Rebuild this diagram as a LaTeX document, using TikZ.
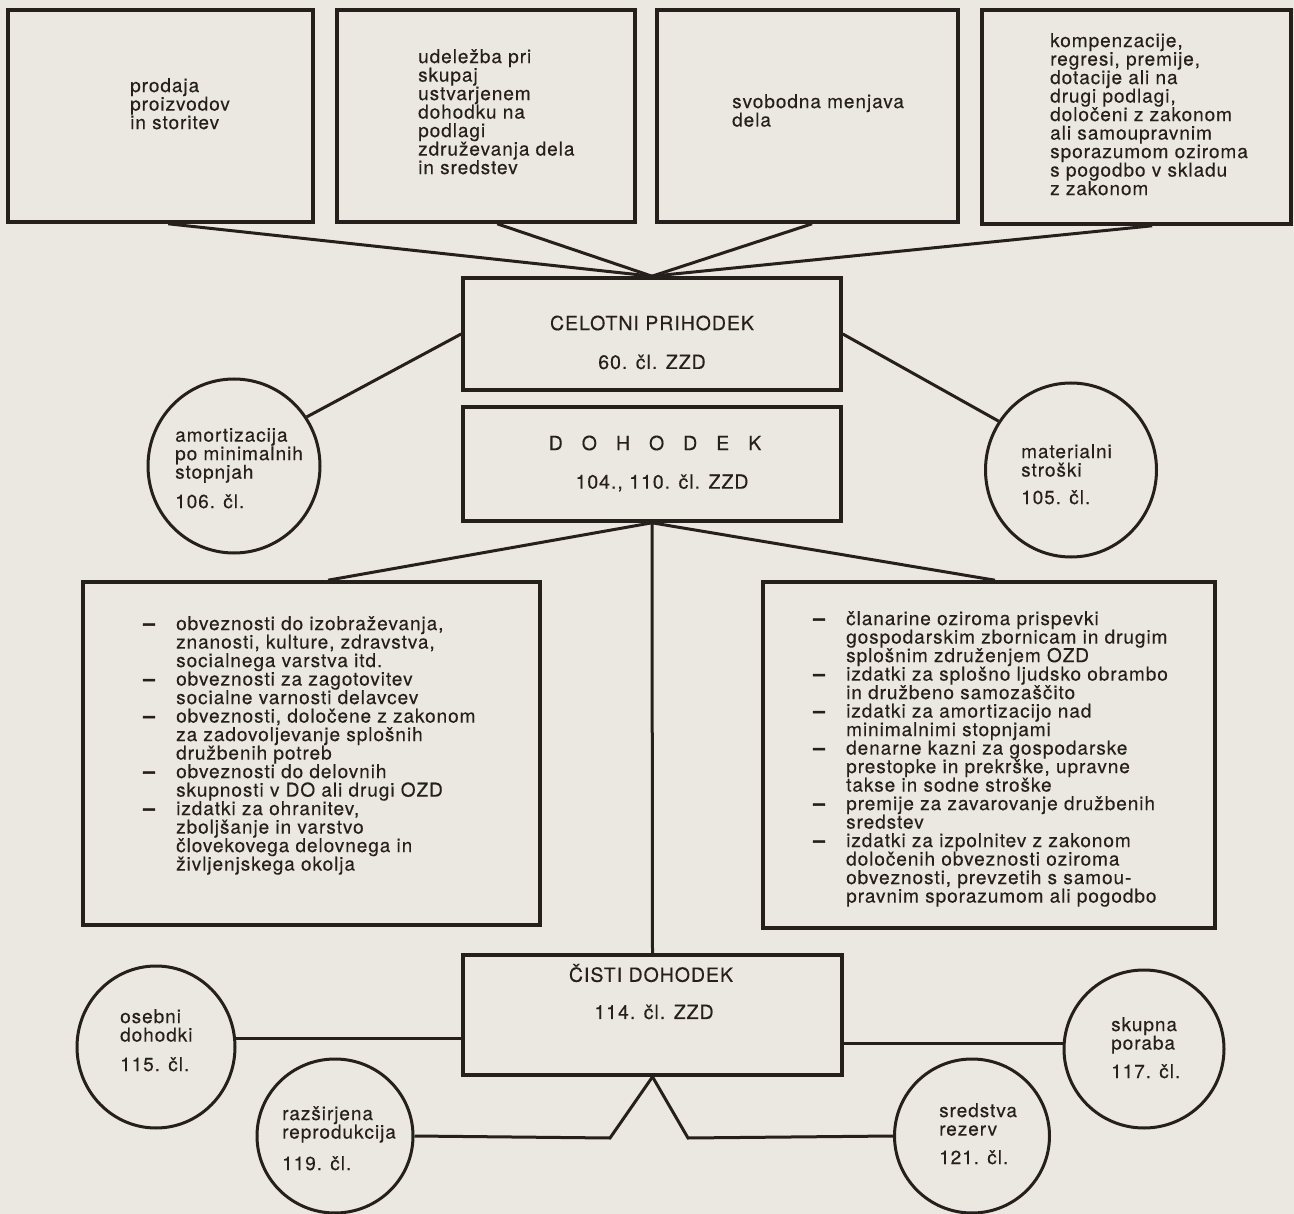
\documentclass[tikz,border=0pt]{standalone}
\usepackage{fontspec}
\setmainfont{TeX Gyre Heros}[LetterSpace=5,FakeBold=0.3]
\usetikzlibrary{shapes.geometric,calc}
\definecolor{paper}{RGB}{234,232,224}
\definecolor{ink}{RGB}{38,32,28}
\newcommand{\dgfont}{\fontsize{19}{18.5}\selectfont}
\newcommand{\hdfont}{\fontsize{19.5}{20}\selectfont}
\newcommand{\itm}{\makebox[33pt][l]{\fontsize{21}{18.5}\selectfont\addfontfeature{FakeBold=2.5}\textbf{–}}}
\newcommand{\cnt}{\makebox[33pt]{}}
\newcommand{\gp}{\hspace{19pt}}
\begin{document}
\begin{tikzpicture}[x=1pt,y=-1pt,
  box/.style={draw=ink, line width=3.6pt, rectangle, inner sep=0pt},
  circ/.style={draw=ink, line width=3pt, ellipse, inner sep=0pt},
  conn/.style={draw=ink, line width=3pt, line join=miter},
  txt/.style={inner sep=0pt, anchor=north west, align=left, font=\dgfont, text=ink},
  hd/.style={inner sep=0pt, anchor=center, font=\hdfont, text=ink}]
\fill[paper] (0,0) rectangle (1294,1214);
\useasboundingbox (0,0) rectangle (1294,1214);

% top source boxes
\node[box, minimum width=305pt, minimum height=212pt] (b1) at (160.5,116) {};
\node[box, minimum width=298pt, minimum height=212pt] (b2) at (486,116) {};
\node[box, minimum width=301pt, minimum height=212pt] (b3) at (807.5,116) {};
\node[box, minimum width=309pt, minimum height=214pt] (b4) at (1136.5,117) {};
\node[txt] (t1) at (130,78) {prodaja\\proizvodov\\in storitev};
\node[txt] (t2) at (418,49) {udeležba pri\\skupaj\\ustvarjenem\\dohodku na\\podlagi\\združevanja dela\\in sredstev};
\node[txt] (t3) at (732,94) {svobodna menjava\\dela};
\node[txt] (t4) at (1050,33) {kompenzacije,\\regresi, premije,\\dotacije ali na\\drugi podlagi,\\določeni z zakonom\\ali samoupravnim\\sporazumom oziroma\\s pogodbo v skladu\\z zakonom};

% central boxes
\node[box, minimum width=378pt, minimum height=112pt] (celotni) at (652,334) {};
\node[hd] (celt1) at (652,323) {CELOTNI PRIHODEK};
\node[hd] (celt2) at (652,362) {60. čl. ZZD};
\node[box, minimum width=378pt, minimum height=114pt] (dohodek) at (652,464) {};
\node[hd] (doht1) at (655,443) {D\gp O\gp H\gp O\gp D\gp E\gp K};
\node[hd] (doht2) at (662,483) {104., 110. čl. ZZD};

% side circles
\node[circ, minimum width=172pt, minimum height=174pt] (amort) at (234,466) {};
\node[txt] (amortt) at (175,428) {amortizacija\\po minimalnih\\stopnjah\\[11pt]106. čl.};
\node[circ, minimum width=171pt, minimum height=174pt] (mat) at (1071,470) {};
\node[txt] (matt) at (1021,444) {materialni\\stroški\\[9pt]105. čl.};

% list boxes
\node[box, minimum width=457pt, minimum height=343pt] (leftlist) at (311.5,753.5) {};
\node[txt] (leftt) at (143,616) {\itm obveznosti do izobraževanja,\\\cnt znanosti, kulture, zdravstva,\\\cnt socialnega varstva itd.\\\itm obveznosti za zagotovitev\\\cnt socialne varnosti delavcev\\\itm obveznosti, določene z zakonom\\\cnt za zadovoljevanje splošnih\\\cnt družbenih potreb\\\itm obveznosti do delovnih\\\cnt skupnosti v DO ali drugi OZD\\\itm izdatki za ohranitev,\\\cnt zboljšanje in varstvo\\\cnt človekovega delovnega in\\\cnt življenjskega okolja};
\node[box, minimum width=452pt, minimum height=346pt] (rightlist) at (989,755) {};
\node[txt] (rightt) at (813,611) {\itm članarine oziroma prispevki\\\cnt gospodarskim zbornicam in drugim\\\cnt splošnim združenjem OZD\\\itm izdatki za splošno ljudsko obrambo\\\cnt in družbeno samozaščito\\\itm izdatki za amortizacijo nad\\\cnt minimalnimi stopnjami\\\itm denarne kazni za gospodarske\\\cnt prestopke in prekrške, upravne\\\cnt takse in sodne stroške\\\itm premije za zavarovanje družbenih\\\cnt sredstev\\\itm izdatki za izpolnitev z zakonom\\\cnt določenih obveznosti oziroma\\\cnt obveznosti, prevzetih s samou-\\\cnt pravnim sporazumom ali pogodbo};

% net income box
\node[box, minimum width=379pt, minimum height=120pt] (cisti) at (652.5,1015) {};
\node[hd] (cist1) at (651,973) {ČISTI DOHODEK};
\node[hd] (cist2) at (654,1012) {114. čl. ZZD};

% bottom circles
\node[circ, minimum width=158pt, minimum height=162pt] (osebni) at (156,1047) {};
\node[txt] (osebnit) at (120,1009) {osebni\\dohodki\\[11pt]115. čl.};
\node[circ, minimum width=156pt, minimum height=154pt] (razs) at (335,1136) {};
\node[txt] (razst) at (282,1106) {razširjena\\reprodukcija\\[13pt]119. čl.};
\node[circ, minimum width=155pt, minimum height=154pt] (sred) at (972,1136) {};
\node[txt] (sredt) at (939,1103) {sredstva\\rezerv\\[10pt]121. čl.};
\node[circ, minimum width=160pt, minimum height=158pt] (skupna) at (1144,1049) {};
\node[txt] (skupnat) at (1111,1017) {skupna\\poraba\\[10pt]117. čl.};

\coordinate (vl) at (610,1138);
\coordinate (vr) at (688,1138);

% connectors
\draw[conn] ($(b1.south west)!0.525!(b1.south east)$) -- (celotni.north);
\draw[conn] ($(b2.south west)!0.537!(b2.south east)$) -- (celotni.north);
\draw[conn] ($(b3.south west)!0.515!(b3.south east)$) -- (celotni.north);
\draw[conn] ($(b4.south west)!0.55!(b4.south east)$) -- (celotni.north);
\draw[conn] (amort.34) -- (celotni.west);
\draw[conn] (celotni.east) -- (mat.146);
\draw[conn] (dohodek.south) -- ($(leftlist.north west)!0.536!(leftlist.north east)$);
\draw[conn] (dohodek.south) -- ($(rightlist.north west)!0.513!(rightlist.north east)$);
\draw[conn] (dohodek.south) -- (cisti.north);
\draw[conn] (osebni.6) -- (osebni.6 -| cisti.west);
\draw[conn] (skupna.176 -| cisti.east) -- (skupna.176);
\draw[conn] (cisti.south) -- (vl) -- (razs.east);
\draw[conn] (cisti.south) -- (vr) -- (sred.west);
\end{tikzpicture}
\end{document}
